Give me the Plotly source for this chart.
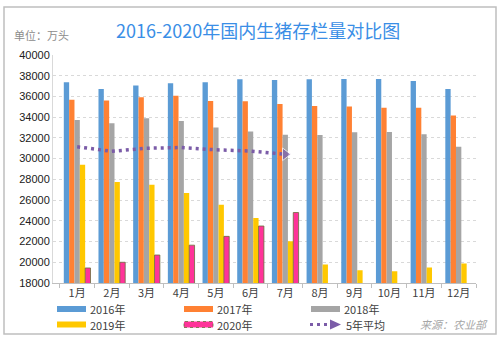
import plotly.graph_objects as go

months = ["1月", "2月", "3月", "4月", "5月", "6月", "7月", "8月", "9月", "10月", "11月", "12月"]
y2016 = [37370, 36730, 37050, 37270, 37370, 37660, 37590, 37660, 37690, 37690, 37500, 36730]
y2017 = [35670, 35600, 35920, 36080, 35570, 35540, 35280, 35090, 35020, 34900, 34900, 34160]
y2018 = [33740, 33420, 33900, 33640, 33000, 32620, 32300, 32270, 32550, 32580, 32360, 31140]
y2019 = [29400, 27740, 27480, 26680, 25550, 24270, 22020, 19780, 19230, 19130, 19490, 19870]
y2020 = [19450, 20000, 20700, 21650, 22500, 23500, 24800, None, None, None, None, None]
avg_months = ["1月", "2月", "3月", "4月", "5月", "6月", "7月"]
avg5 = [31140, 30710, 31000, 31070, 30850, 30730, 30420]
yticks = [18000, 20000, 22000, 24000, 26000, 28000, 30000, 32000, 34000, 36000, 38000, 40000]

C16, C17, C18, C19, C20, CAVG = "#5B9BD5", "#FF8133", "#A5A5A5", "#FFC800", "#FF3399", "#7B5CA8"

fig = go.Figure()
for name, vals, col in [("2016年", y2016, C16), ("2017年", y2017, C17), ("2018年", y2018, C18),
                        ("2019年", y2019, C19), ("2020年", y2020, C20)]:
    line = dict(width=0.8, color="#6b6f3b") if name == "2020年" else dict(width=0)
    fig.add_bar(x=months, y=vals, name=name, marker=dict(color=col, line=line))

fig.add_scatter(x=avg_months, y=avg5, name="5年平均", mode="lines+markers",
                line=dict(color=CAVG, width=3.5, dash="3px,4px"),
                marker=dict(symbol="triangle-right", color=CAVG,
                            size=[0] * (len(avg5) - 1) + [11]))

W, H = 501, 346
L, R, T, B = 53, 25, 55, 63
pw, ph = W - L - R, H - T - B

def px(x):
    return (x - L) / pw

def py(y):
    return (H - B - y) / ph

shapes = [dict(type="rect", xref="paper", yref="paper", x0=px(4), x1=px(496), y0=py(334), y1=py(7),
               line=dict(color="#BFBFBF", width=1.5), fillcolor="rgba(0,0,0,0)", layer="below")]
annotations = [
    dict(text="2016-2020年国内生猪存栏量对比图", xref="paper", yref="paper", x=px(258), y=py(30),
         showarrow=False, font=dict(size=18, color="#3A8EE6", family="Noto Sans CJK SC"),
         xanchor="center", yanchor="middle"),
    dict(text="单位：万头", xref="paper", yref="paper", x=px(12), y=py(35), showarrow=False,
         font=dict(size=11, color="#8C8C8C", family="Noto Sans CJK SC"), xanchor="left", yanchor="middle"),
    dict(text="<i>来源：农业部</i>", xref="paper", yref="paper", x=px(490), y=py(324), showarrow=False,
         font=dict(size=11, color="#A6A6A6", family="Noto Sans CJK SC"), xanchor="right", yanchor="middle"),
]

legend_items = [("2016年", C16, 57, 309), ("2017年", C17, 184, 309), ("2018年", C18, 311, 309),
                ("2019年", C19, 57, 324.5), ("2020年", C20, 184, 324.5)]
for name, col, x0, yc in legend_items:
    lw = dict(color="#6b6f3b", width=0.8, dash="dot") if name == "2020年" else dict(width=0)
    shapes.append(dict(type="rect", xref="paper", yref="paper", x0=px(x0), x1=px(x0 + 29),
                       y0=py(yc + 3), y1=py(yc - 3), fillcolor=col, line=lw))
    annotations.append(dict(text=name, xref="paper", yref="paper", x=px(x0 + 31), y=py(yc),
                            showarrow=False, xanchor="left", yanchor="middle",
                            font=dict(size=11, color="#404040", family="Noto Sans CJK SC")))
# 5-year average legend item
shapes.append(dict(type="line", xref="paper", yref="paper", x0=px(310), x1=px(331), y0=py(324.5), y1=py(324.5),
                   line=dict(color=CAVG, width=3, dash="3px,4px")))
shapes.append(dict(type="path", xref="paper", yref="paper",
                   path=f"M {px(330)} {py(319.5)} L {px(341)} {py(324.5)} L {px(330)} {py(329.5)} Z",
                   fillcolor=CAVG, line=dict(width=0)))
annotations.append(dict(text="5年平均", xref="paper", yref="paper", x=px(344), y=py(324.5),
                        showarrow=False, xanchor="left", yanchor="middle",
                        font=dict(size=11, color="#404040", family="Noto Sans CJK SC")))

fig.update_layout(
    width=W, height=H, margin=dict(l=L, r=R, t=T, b=B),
    paper_bgcolor="white", plot_bgcolor="white",
    barmode="group", bargap=0.23, bargroupgap=0,
    showlegend=False, shapes=shapes, annotations=annotations,
    font=dict(family="Noto Sans CJK SC", color="#404040"),
)
fig.update_xaxes(type="category", showline=True, linecolor="#BFBFBF", linewidth=1,
                 ticks="outside", tickson="boundaries", ticklen=4, tickcolor="#BFBFBF",
                 tickfont=dict(size=11, color="#404040"), showgrid=False)
fig.update_yaxes(range=[18000, 40000], tickvals=yticks, ticktext=[str(v) for v in yticks],
                 showline=True, linecolor="#D9D9D9", linewidth=1,
                 showgrid=True, gridcolor="#D9D9D9", griddash="dot", gridwidth=1,
                 tickfont=dict(size=11, color="#202020", family="Arial"), ticks="", zeroline=False)

fig.write_html("out.html")
